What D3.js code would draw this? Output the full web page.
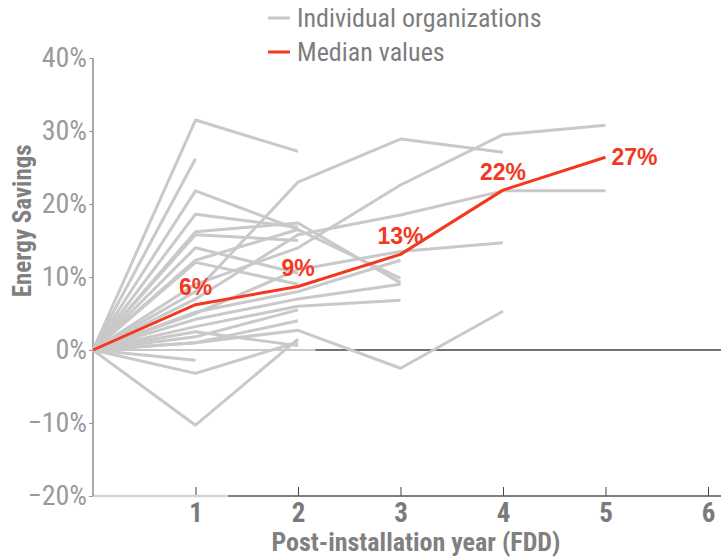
<!DOCTYPE html>
<html><head><meta charset="utf-8">
<script src="https://cdn.jsdelivr.net/npm/d3@7"></script>
<style>
html,body{margin:0;padding:0;background:#fff;}
svg{display:block;}
</style></head>
<body>
<svg id="chart" width="721" height="557"></svg>
<script>
// ---- data ----
const years = [0, 1, 2, 3, 4, 5, 6];
const yTicks = [-20, -10, 0, 10, 20, 30, 40];
const xTicks = [1, 2, 3, 4, 5, 6];
const individualOrgs = [
  [0, 31.5, 27.2],
  [0, 26.2],
  [0, 21.8, 16.5, 9.8],
  [0, 18.6, 16.8],
  [0, 16.2, 17.4, 9.2],
  [0, 15.8, 15.0],
  [0, 12.3, 16.5],
  [0, 8.0, 23.0, 28.9, 27.1],
  [0, 9.0, 14.0, 22.6, 29.5, 30.8],
  [0, 7.0, 15.8, 18.5, 21.8, 21.8],
  [0, 5.0, 11.0, 13.5, 14.7],
  [0, 1.0, 2.7, -2.5, 5.3],
  [0, 5.2, 8.0, 12.3],
  [0, 3.2, 6.0, 6.8],
  [0, 1.8, 5.5],
  [0, 1.0, 4.0],
  [0, -1.4],
  [0, -3.2, 1.1],
  [0, -10.3, 1.5],
  [0, 14.0, 10.5],
  [0, 12.0, 9.0],
  [0, 2.5, 0.6],
  [0, 4.2, 7.0, 9.0]
];
const medianValues = [0, 6.2, 8.7, 13.1, 21.9, 26.4];
const medianLabels = ["", "6%", "9%", "13%", "22%", "27%"];
const legendItems = ["Individual organizations", "Median values"];
const zeroOverlayEnd = 2.17;   // light segment over the 0% line (in years)
const axisOverlayEnd = 1.32;   // light segment over the x axis (in years)

// ---- layout ----
const svg = d3.select("#chart");
const x = d3.scaleLinear().domain([0, 6]).range([93, 708]);
const y = d3.scaleLinear().domain([-20, 40]).range([496, 58]);
const gray = "#c9c9cb";
const red = "#f4381f";
const narrow = "'Liberation Sans Narrow','Roboto Condensed','Arial Narrow',Arial,sans-serif";

// zero line
svg.append("line").attr("x1", x(0)).attr("x2", 721)
  .attr("y1", y(0)).attr("y2", y(0)).attr("stroke", "#444").attr("stroke-width", 1.3);
svg.append("line").attr("x1", x(0)).attr("x2", x(zeroOverlayEnd))
  .attr("y1", y(0)).attr("y2", y(0)).attr("stroke", gray).attr("stroke-width", 2);

// x axis
const xAxis = d3.axisBottom(x).tickValues(xTicks).tickSize(0).tickPadding(7)
  .tickFormat(d3.format("d"));
const gx = svg.append("g").attr("transform", `translate(0,${y(-20)})`).call(xAxis);
gx.select(".domain").remove();
gx.append("line").attr("x1", x(0)).attr("x2", 721).attr("y1", 0).attr("y2", 0)
  .attr("stroke", "#555").attr("stroke-width", 1.5);
gx.append("line").attr("x1", x(0)).attr("x2", x(axisOverlayEnd)).attr("y1", 0).attr("y2", 0)
  .attr("stroke", "#d4d4d4").attr("stroke-width", 2.5);
gx.selectAll(".tick").append("line").attr("y1", 0).attr("y2", -9)
  .attr("stroke", "#444").attr("stroke-width", 1);
gx.selectAll(".tick text").attr("fill", "#7a7a7c").attr("font-size", 27)
  .attr("font-weight", "bold").attr("font-family", narrow);

// y axis
const yAxis = d3.axisLeft(y).tickValues(yTicks).tickSize(4).tickPadding(2)
  .tickFormat(d => (d < 0 ? "\u2212" + Math.abs(d) : d) + "%");
const gy = svg.append("g").attr("transform", `translate(${x(0)},0)`).call(yAxis);
gy.select(".domain").attr("stroke", "#a8a8a8").attr("stroke-width", 2)
  .attr("d", `M0,${y(40)}V${y(-20)}`);
gy.selectAll(".tick line").attr("stroke", "#999");
gy.selectAll(".tick text").attr("fill", "#9a9a9c").attr("font-size", 28)
  .attr("font-family", narrow);

// individual lines
const line = d3.line().x((d, i) => x(years[i])).y(d => y(d));
svg.append("g").selectAll("path").data(individualOrgs).join("path")
  .attr("d", line).attr("fill", "none").attr("stroke", gray)
  .attr("stroke-width", 3).attr("stroke-linejoin", "round");

// median line
svg.append("path").attr("d", line(medianValues)).attr("fill", "none")
  .attr("stroke", red).attr("stroke-width", 3).attr("stroke-linejoin", "round");

// median labels
medianValues.forEach((v, i) => {
  if (!medianLabels[i]) return;
  const last = i === medianValues.length - 1;
  svg.append("text")
    .attr("x", last ? x(years[i]) + 6 : x(years[i]))
    .attr("y", last ? y(v) + 8 : y(v) - 10)
    .attr("text-anchor", last ? "start" : "middle")
    .attr("fill", red).attr("font-size", 23).attr("font-weight", "bold")
    .attr("font-family", "Arial,'Liberation Sans',sans-serif")
    .text(medianLabels[i]);
});

// legend
const legend = svg.append("g");
legendItems.forEach((t, i) => {
  const ly = 18 + i * 34;
  legend.append("line").attr("x1", 268).attr("x2", 290).attr("y1", ly).attr("y2", ly)
    .attr("stroke", i === 0 ? gray : red).attr("stroke-width", 3);
  legend.append("text").attr("x", 297).attr("y", ly + 9).attr("fill", "#7d7d80")
    .attr("font-size", 26).attr("font-family", narrow).text(t);
});

// axis titles
svg.append("text").attr("x", 416).attr("y", 551).attr("text-anchor", "middle")
  .attr("fill", "#808083").attr("font-size", 26).attr("font-weight", "bold")
  .attr("font-family", narrow).text("Post-installation year (FDD)");
svg.append("text").attr("transform", `translate(31,${y(17.7)}) rotate(-90)`)
  .attr("text-anchor", "middle").attr("fill", "#808083").attr("font-size", 25)
  .attr("font-weight", "bold").attr("font-family", narrow).text("Energy Savings");
</script>
</body></html>
